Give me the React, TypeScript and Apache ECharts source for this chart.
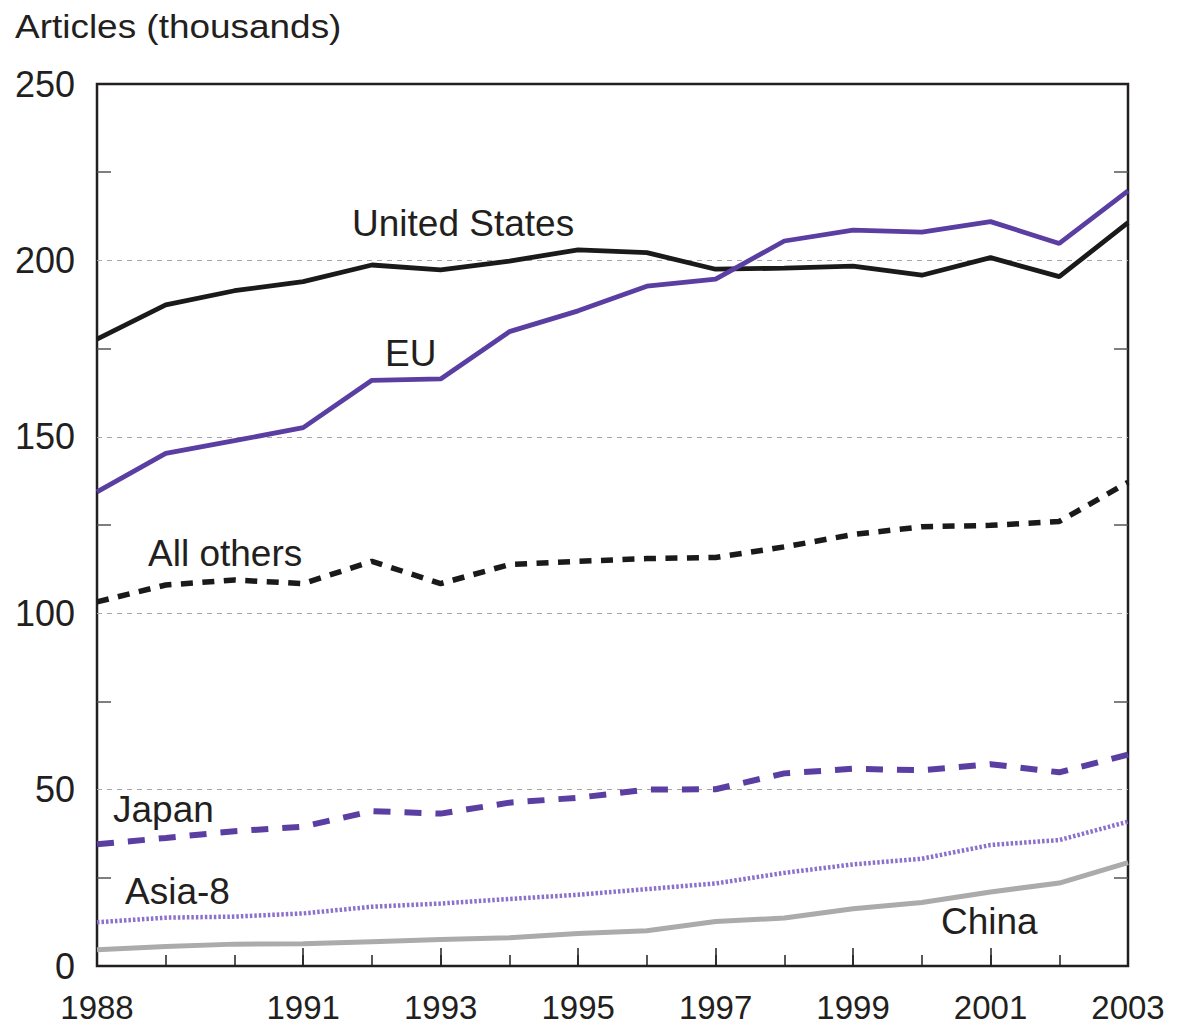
import React, { useEffect, useRef } from "react";
import * as echarts from "echarts";

const years = ["1988", "1989", "1990", "1991", "1992", "1993", "1994", "1995", "1996", "1997", "1998", "1999", "2000", "2001", "2002", "2003"];
const labeledYears = ["1988", "1991", "1993", "1995", "1997", "1999", "2001", "2003"];

const unitedStates = [177.7, 187.4, 191.4, 194.0, 198.7, 197.3, 199.8, 203.0, 202.2, 197.5, 197.8, 198.4, 195.8, 200.8, 195.4, 210.7];
const eu = [134.4, 145.3, 148.9, 152.6, 166.0, 166.4, 179.8, 185.7, 192.7, 194.7, 205.5, 208.6, 208.0, 211.0, 204.8, 219.7];
const allOthers = [103.2, 108.0, 109.4, 108.4, 114.7, 108.4, 113.8, 114.7, 115.5, 115.8, 118.8, 122.3, 124.5, 124.9, 126.0, 137.1];
const japan = [34.5, 36.3, 38.2, 39.5, 43.9, 43.2, 46.3, 47.7, 50.0, 50.1, 54.6, 55.9, 55.5, 57.2, 54.9, 59.9];
const asia8 = [12.4, 13.7, 14.0, 14.9, 16.8, 17.7, 19.0, 20.2, 21.8, 23.4, 26.4, 28.8, 30.4, 34.3, 35.7, 40.9];
const china = [4.6, 5.5, 6.2, 6.3, 6.9, 7.5, 8.0, 9.2, 10.0, 12.6, 13.6, 16.2, 18.0, 21.0, 23.5, 29.3];

const seriesNames = ["United States", "EU", "All others", "Japan", "Asia-8", "China"];
const yTitle = "Articles (thousands)";

const FONT = "'Liberation Sans', Arial, sans-serif";
const INK = "#231f20";
const PURPLE = "#5a3ea2";
const LIGHT_PURPLE = "#8b71cb";
const GRAY = "#ababab";

function label(text: string, x: number, y: number, size = 37) {
  return {
    type: "text",
    x,
    y,
    silent: true,
    z: 10,
    style: {
      text,
      fill: INK,
      fontSize: size,
      fontFamily: FONT,
      align: "left",
      textAlign: "left",
      verticalAlign: "middle",
      textVerticalAlign: "middle",
    },
  };
}

export default function App() {
  const ref = useRef<HTMLDivElement>(null);

  useEffect(() => {
    if (!ref.current) return;
    const chart = echarts.init(ref.current, null, { renderer: "svg" });
    const isLabeled = (_i: number, v: string) => labeledYears.includes(v);

    const minorTick = { show: true, splitNumber: 2, length: 14, lineStyle: { color: "#555", width: 1.5 } };

    chart.setOption({
      animation: false,
      backgroundColor: "#ffffff",
      textStyle: { fontFamily: FONT },
      grid: {
        left: 97,
        right: 51,
        top: 84,
        bottom: 63,
        show: true,
        borderColor: INK,
        borderWidth: 2.5,
        backgroundColor: "transparent",
        containLabel: false,
      },
      xAxis: [
        {
          type: "category",
          data: years,
          boundaryGap: false,
          position: "bottom",
          axisLine: { show: false },
          axisTick: { show: true, inside: true, length: 18, interval: isLabeled, lineStyle: { color: INK, width: 1.5 } },
          axisLabel: { show: true, interval: isLabeled, margin: 27, fontSize: 33, lineHeight: 28, color: INK, fontFamily: FONT },
          splitLine: { show: false },
        },
        {
          type: "category",
          data: years,
          boundaryGap: false,
          position: "bottom",
          axisLine: { show: false },
          axisTick: { show: true, inside: true, length: 11, interval: 0, lineStyle: { color: INK, width: 1.5 } },
          axisLabel: { show: false },
          splitLine: { show: false },
        },
      ],
      yAxis: [
        {
          type: "value",
          min: 0,
          max: 250,
          interval: 50,
          position: "left",
          axisLine: { show: false },
          axisTick: { show: false, inside: true },
          minorTick,
          axisLabel: { show: true, margin: 22, fontSize: 36, color: INK, fontFamily: FONT },
          splitLine: {
            show: true,
            lineStyle: {
              color: ["transparent", "#a6a6a6", "#a6a6a6", "#a6a6a6", "#a6a6a6", "transparent"],
              type: [5, 5],
              width: 1.2,
            },
          },
        },
        {
          type: "value",
          min: 0,
          max: 250,
          interval: 50,
          position: "right",
          axisLine: { show: false },
          axisTick: { show: false, inside: true },
          minorTick,
          axisLabel: { show: false },
          splitLine: { show: false },
        },
      ],
      series: [
        {
          name: seriesNames[0],
          type: "line",
          data: unitedStates,
          symbol: "none",
          lineStyle: { color: "#1a1a1a", width: 4.8 },
          z: 3,
        },
        {
          name: seriesNames[1],
          type: "line",
          data: eu,
          symbol: "none",
          lineStyle: { color: PURPLE, width: 4.8 },
          z: 4,
        },
        {
          name: seriesNames[2],
          type: "line",
          data: allOthers,
          symbol: "none",
          lineStyle: { color: "#1a1a1a", width: 5.5, type: [12, 9.5] },
          z: 3,
        },
        {
          name: seriesNames[3],
          type: "line",
          data: japan,
          symbol: "none",
          lineStyle: { color: PURPLE, width: 6, type: [17, 14] },
          z: 3,
        },
        {
          name: seriesNames[4],
          type: "line",
          data: asia8,
          symbol: "none",
          lineStyle: { color: LIGHT_PURPLE, width: 4.5, type: [2.5, 2] },
          z: 3,
        },
        {
          name: seriesNames[5],
          type: "line",
          data: china,
          symbol: "none",
          lineStyle: { color: GRAY, width: 5 },
          z: 2,
        },
      ],
      graphic: [
        { ...label(yTitle, 15, 26, 33), scaleX: 1.12 },
        label(seriesNames[0], 352, 223),
        label(seriesNames[1], 385, 353),
        label(seriesNames[2], 148, 553),
        label(seriesNames[3], 113, 809),
        label(seriesNames[4], 125, 891),
        label(seriesNames[5], 941, 921),
      ],
    });

    return () => {
      chart.dispose();
    };
  }, []);

  return (
    <div
      ref={ref}
      style={{ position: "absolute", left: 0, top: 0, width: 1179, height: 1029, background: "#fff" }}
    />
  );
}
